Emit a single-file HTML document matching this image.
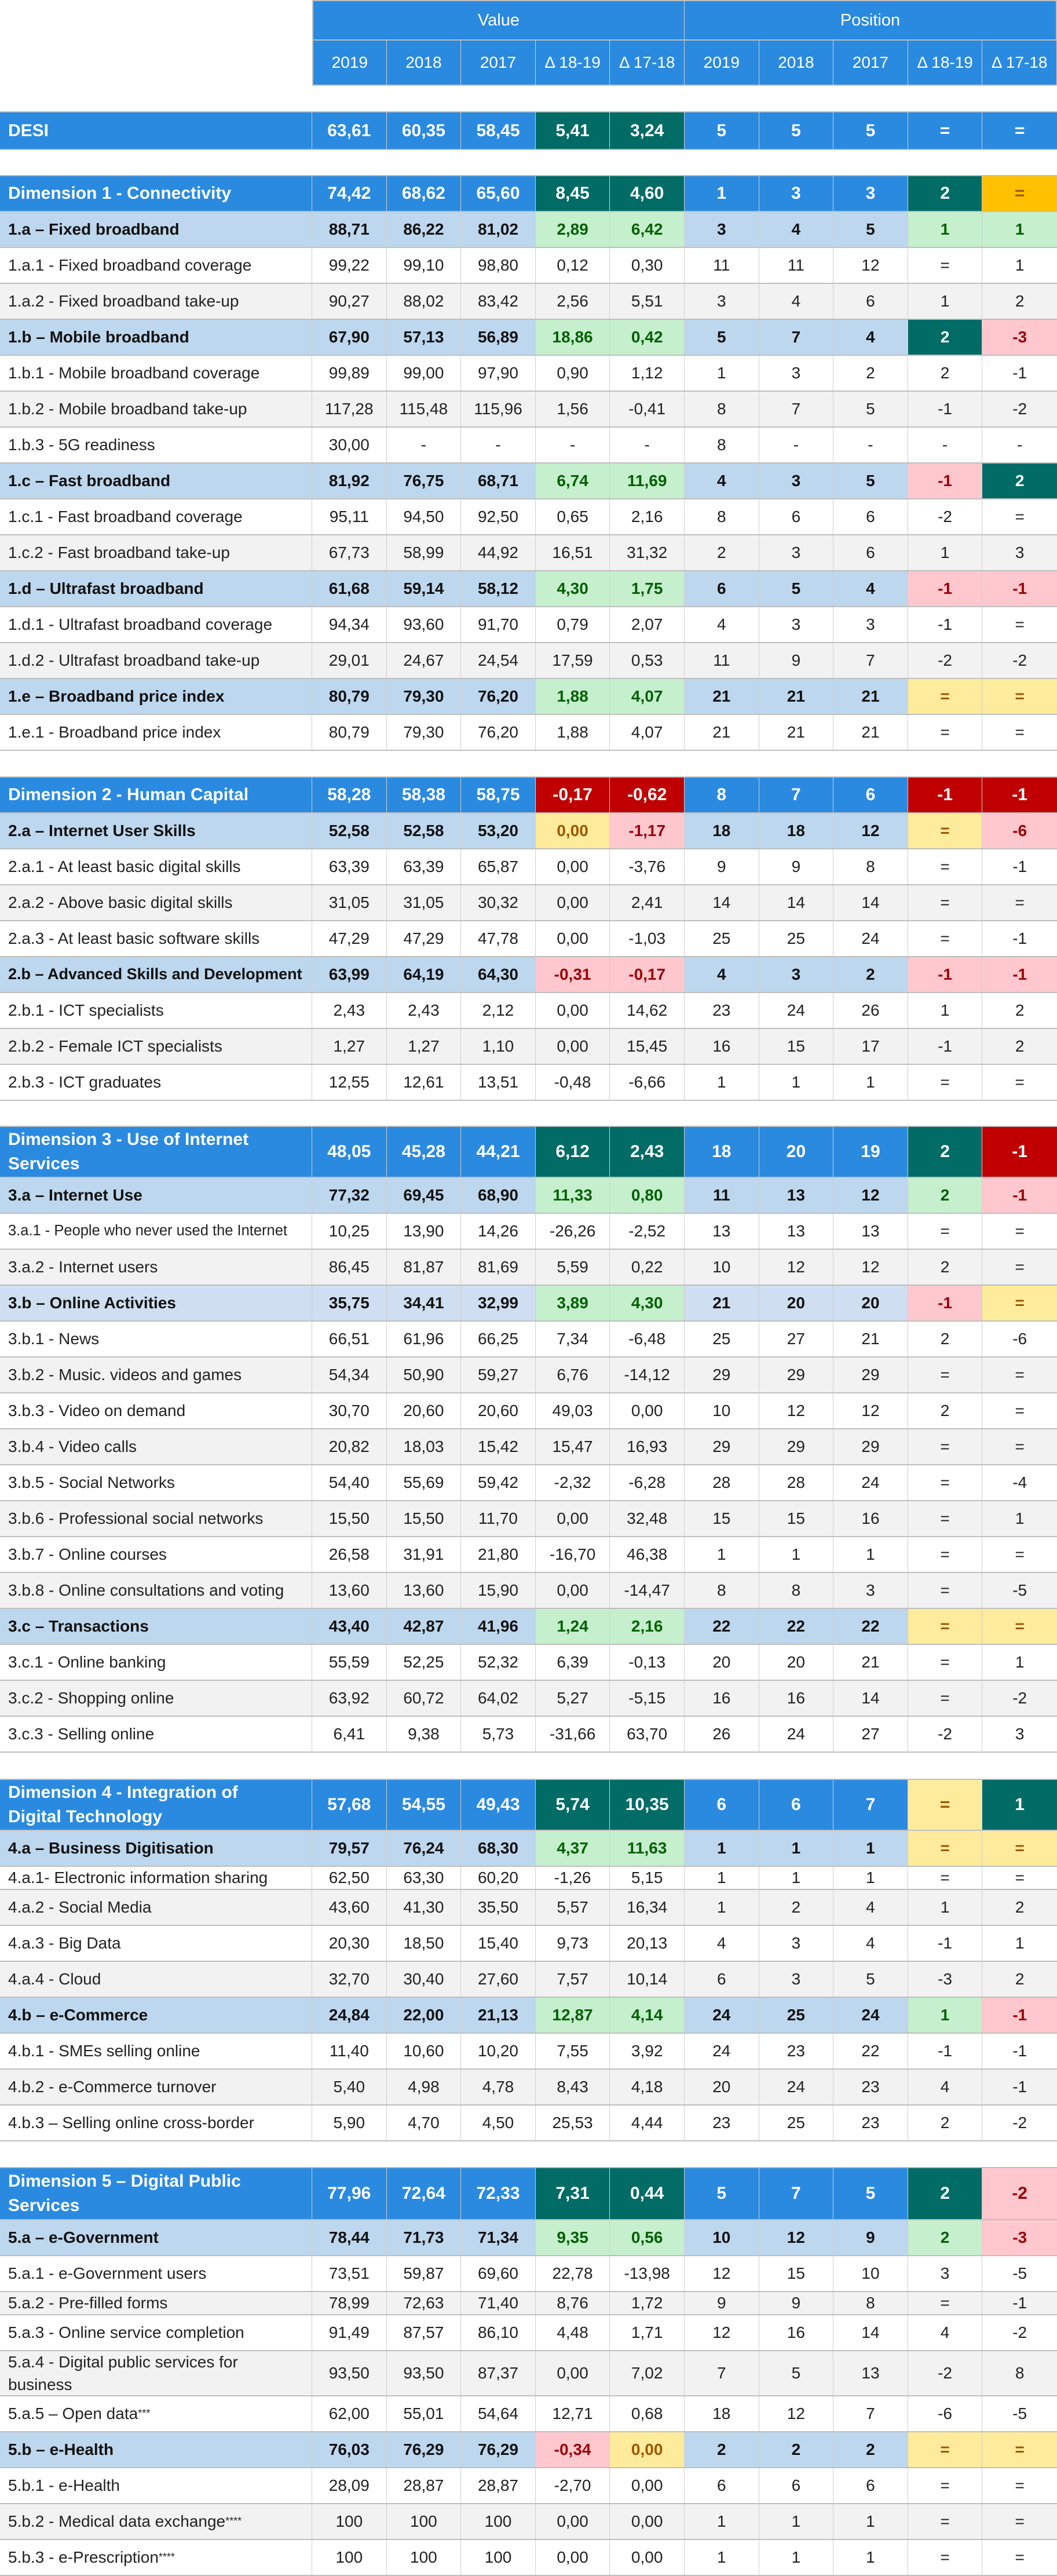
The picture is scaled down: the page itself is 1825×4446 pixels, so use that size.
<!DOCTYPE html>
<html><head><meta charset="utf-8">
<style>
html,body{margin:0;padding:0;background:#fff;}
body{width:1825px;height:4445px;position:relative;overflow:hidden;font-family:"Liberation Sans",sans-serif;}
.row{position:absolute;left:0;width:1825px;display:flex;box-sizing:border-box;border-top:2px solid #bfbfbf;border-bottom:2px solid #bfbfbf;}
.cell{box-sizing:border-box;border-right:1px solid #cfcfcf;display:flex;align-items:center;justify-content:center;font-size:28px;color:#222;}
.cell.lab{justify-content:flex-start;padding-left:14px;width:539px;white-space:nowrap;overflow:hidden;line-height:1.4;}
.cell.num{width:128.6px;}
.cell:last-child{border-right:none;}
.dim .cell{background:#2a8ae0;color:#fff;font-weight:bold;font-size:30px;}
.sub .cell{background:#bdd7ee;color:#111;font-weight:bold;}
.sub2 .cell{background:#cfdef0;color:#111;font-weight:bold;}
.w .cell{background:#fff;}
.gr .cell{background:#f2f2f2;}
.row .cell.G{background:#016b66;color:#fff;}
.row .cell.R{background:#c00000;color:#fff;}
.row .cell.g{background:#c6efce;color:#006100;}
.row .cell.r{background:#ffc7ce;color:#9c0006;}
.row .cell.y{background:#ffeb9c;color:#9c5700;}
.row .cell.o{background:#ffc000;color:#9c5700;}
.hdr{position:absolute;background:#2a8ae0;color:#fff;display:flex;align-items:center;justify-content:center;box-sizing:border-box;font-size:29px;}
sup{font-size:18px;}
</style></head><body>
<div class="hdr" style="left:539px;top:0;width:643px;height:70px;border:2px solid #bfbfbf;border-right:1px solid #cfcfcf;">Value</div>
<div class="hdr" style="left:1182px;top:0;width:643px;height:70px;border:2px solid #bfbfbf;border-left:none;">Position</div>
<div id="subhdr"></div>
<div id="tbl"></div>
<script>
const headerLabels=["2019","2018","2017","Δ 18-19","Δ 17-18","2019","2018","2017","Δ 18-19","Δ 17-18"];
const sectionTops=[192,302,1340,1943,3070,3740];
// [type, label, 10 values, color codes for cols 4,5,9,10, height]
const rowsData=[
["dim","DESI","63,61","60,35","58,45","5,41","3,24","5","5","5","=","=","GG..",65],
["dim","Dimension 1 - Connectivity","74,42","68,62","65,60","8,45","4,60","1","3","3","2","=","GGGo",62],
["sub","1.a – Fixed broadband","88,71","86,22","81,02","2,89","6,42","3","4","5","1","1","gggg",62],
["it","1.a.1 - Fixed broadband coverage","99,22","99,10","98,80","0,12","0,30","11","11","12","=","1","....",62],
["it","1.a.2 - Fixed broadband take-up","90,27","88,02","83,42","2,56","5,51","3","4","6","1","2","....",62],
["sub","1.b – Mobile broadband","67,90","57,13","56,89","18,86","0,42","5","7","4","2","-3","ggGr",62],
["it","1.b.1 - Mobile broadband coverage","99,89","99,00","97,90","0,90","1,12","1","3","2","2","-1","....",62],
["it","1.b.2 - Mobile broadband take-up","117,28","115,48","115,96","1,56","-0,41","8","7","5","-1","-2","....",62],
["it","1.b.3 - 5G readiness","30,00","-","-","-","-","8","-","-","-","-","....",62],
["sub","1.c – Fast broadband","81,92","76,75","68,71","6,74","11,69","4","3","5","-1","2","ggrG",62],
["it","1.c.1 - Fast broadband coverage","95,11","94,50","92,50","0,65","2,16","8","6","6","-2","=","....",62],
["it","1.c.2 - Fast broadband take-up","67,73","58,99","44,92","16,51","31,32","2","3","6","1","3","....",62],
["sub","1.d – Ultrafast broadband","61,68","59,14","58,12","4,30","1,75","6","5","4","-1","-1","ggrr",62],
["it","1.d.1 - Ultrafast broadband coverage","94,34","93,60","91,70","0,79","2,07","4","3","3","-1","=","....",62],
["it","1.d.2 - Ultrafast broadband take-up","29,01","24,67","24,54","17,59","0,53","11","9","7","-2","-2","....",62],
["sub","1.e – Broadband price index","80,79","79,30","76,20","1,88","4,07","21","21","21","=","=","ggyy",62],
["it","1.e.1 - Broadband price index","80,79","79,30","76,20","1,88","4,07","21","21","21","=","=","....",62],
["dim","Dimension 2 - Human Capital","58,28","58,38","58,75","-0,17","-0,62","8","7","6","-1","-1","RRRR",62],
["sub","2.a – Internet User Skills","52,58","52,58","53,20","0,00","-1,17","18","18","12","=","-6","yryr",62],
["it","2.a.1 - At least basic digital skills","63,39","63,39","65,87","0,00","-3,76","9","9","8","=","-1","....",62],
["it","2.a.2 - Above basic digital skills","31,05","31,05","30,32","0,00","2,41","14","14","14","=","=","....",62],
["it","2.a.3 - At least basic software skills","47,29","47,29","47,78","0,00","-1,03","25","25","24","=","-1","....",62],
["sub","2.b – Advanced Skills and Development","63,99","64,19","64,30","-0,31","-0,17","4","3","2","-1","-1","rrrr",62],
["it","2.b.1 - ICT specialists","2,43","2,43","2,12","0,00","14,62","23","24","26","1","2","....",62],
["it","2.b.2 - Female ICT specialists","1,27","1,27","1,10","0,00","15,45","16","15","17","-1","2","....",62],
["it","2.b.3 - ICT graduates","12,55","12,61","13,51","-0,48","-6,66","1","1","1","=","=","....",62],
["dim","Dimension 3 - Use of Internet<br>Services","48,05","45,28","44,21","6,12","2,43","18","20","19","2","-1","GGGR",88],
["sub","3.a – Internet Use","77,32","69,45","68,90","11,33","0,80","11","13","12","2","-1","gggr",62],
["it","3.a.1 - People who never used the Internet","10,25","13,90","14,26","-26,26","-2,52","13","13","13","=","=","....",62],
["it","3.a.2 - Internet users","86,45","81,87","81,69","5,59","0,22","10","12","12","2","=","....",62],
["sub2","3.b – Online Activities","35,75","34,41","32,99","3,89","4,30","21","20","20","-1","=","ggry",62],
["it","3.b.1 - News","66,51","61,96","66,25","7,34","-6,48","25","27","21","2","-6","....",62],
["it","3.b.2 - Music. videos and games","54,34","50,90","59,27","6,76","-14,12","29","29","29","=","=","....",62],
["it","3.b.3 - Video on demand","30,70","20,60","20,60","49,03","0,00","10","12","12","2","=","....",62],
["it","3.b.4 - Video calls","20,82","18,03","15,42","15,47","16,93","29","29","29","=","=","....",62],
["it","3.b.5 - Social Networks","54,40","55,69","59,42","-2,32","-6,28","28","28","24","=","-4","....",62],
["it","3.b.6 - Professional social networks","15,50","15,50","11,70","0,00","32,48","15","15","16","=","1","....",62],
["it","3.b.7 - Online courses","26,58","31,91","21,80","-16,70","46,38","1","1","1","=","=","....",62],
["it","3.b.8 - Online consultations and voting","13,60","13,60","15,90","0,00","-14,47","8","8","3","=","-5","....",62],
["sub","3.c – Transactions","43,40","42,87","41,96","1,24","2,16","22","22","22","=","=","ggyy",62],
["it","3.c.1 - Online banking","55,59","52,25","52,32","6,39","-0,13","20","20","21","=","1","....",62],
["it","3.c.2 - Shopping online","63,92","60,72","64,02","5,27","-5,15","16","16","14","=","-2","....",62],
["it","3.c.3 - Selling online","6,41","9,38","5,73","-31,66","63,70","26","24","27","-2","3","....",62],
["dim","Dimension 4 - Integration of<br>Digital Technology","57,68","54,55","49,43","5,74","10,35","6","6","7","=","1","GGyG",88],
["sub","4.a – Business Digitisation","79,57","76,24","68,30","4,37","11,63","1","1","1","=","=","ggyy",62],
["it","4.a.1- Electronic information sharing","62,50","63,30","60,20","-1,26","5,15","1","1","1","=","=","....",40],
["it","4.a.2 - Social Media","43,60","41,30","35,50","5,57","16,34","1","2","4","1","2","....",62],
["it","4.a.3 - Big Data","20,30","18,50","15,40","9,73","20,13","4","3","4","-1","1","....",62],
["it","4.a.4 - Cloud","32,70","30,40","27,60","7,57","10,14","6","3","5","-3","2","....",62],
["sub","4.b – e-Commerce","24,84","22,00","21,13","12,87","4,14","24","25","24","1","-1","gggr",62],
["it","4.b.1 - SMEs selling online","11,40","10,60","10,20","7,55","3,92","24","23","22","-1","-1","....",62],
["it","4.b.2 - e-Commerce turnover","5,40","4,98","4,78","8,43","4,18","20","24","23","4","-1","....",62],
["it","4.b.3 – Selling online cross-border","5,90","4,70","4,50","25,53","4,44","23","25","23","2","-2","....",62],
["dim","Dimension 5 – Digital Public<br>Services","77,96","72,64","72,33","7,31","0,44","5","7","5","2","-2","GGGr",90],
["sub","5.a – e-Government","78,44","71,73","71,34","9,35","0,56","10","12","9","2","-3","gggr",62],
["it","5.a.1 - e-Government users","73,51","59,87","69,60","22,78","-13,98","12","15","10","3","-5","....",62],
["it","5.a.2 - Pre-filled forms","78,99","72,63","71,40","8,76","1,72","9","9","8","=","-1","....",40],
["it","5.a.3 - Online service completion","91,49","87,57","86,10","4,48","1,71","12","16","14","4","-2","....",62],
["it","5.a.4 - Digital public services for<br>business","93,50","93,50","87,37","0,00","7,02","7","5","13","-2","8","....",78],
["it","5.a.5 – Open data<sup>***</sup>","62,00","55,01","54,64","12,71","0,68","18","12","7","-6","-5","....",62],
["sub","5.b – e-Health","76,03","76,29","76,29","-0,34","0,00","2","2","2","=","=","ryyy",62],
["it","5.b.1 - e-Health","28,09","28,87","28,87","-2,70","0,00","6","6","6","=","=","....",62],
["it","5.b.2 - Medical data exchange<sup>****</sup>","100","100","100","0,00","0,00","1","1","1","=","=","....",62],
["it","5.b.3 - e-Prescription<sup>****</sup>","100","100","100","0,00","0,00","1","1","1","=","=","....",62]
];
const sh=document.getElementById('subhdr');
headerLabels.forEach((t,i)=>{
  const d=document.createElement('div');
  d.className='hdr';
  
  
  d.style.left=(539+i*128.6)+'px';d.style.top='70px';d.style.width='128.6px';d.style.height='78px';
  d.style.borderBottom='2px solid #bfbfbf';d.style.borderRight='1px solid #cfcfcf';d.style.fontSize='28px';
  if(i===0)d.style.borderLeft='2px solid #bfbfbf';
  d.textContent=t;sh.appendChild(d);
});
const tbl=document.getElementById('tbl');
let y=0,sec=0,alt=0;
const colorIdx={3:0,4:1,8:2,9:3};
rowsData.forEach((r,ri)=>{
  const type=r[0];
  if(type==='dim'){y=sectionTops[sec];sec++;}
  const h=r[13];
  const row=document.createElement('div');
  let cls=type;
  if(type==='it'){cls=(alt%2===0)?'w':'gr';alt++;}else{alt=0;}
  row.className='row '+cls;
  
  
  row.style.top=y+'px';row.style.height=(h+2)+'px';
  const lab=document.createElement('div');
  lab.className='cell lab';
  
  
  lab.innerHTML=r[1];
  if(r[1].indexOf('People who')>=0)lab.style.fontSize='25.5px';
  if(r[1].indexOf('consultations')>=0)lab.style.fontSize='28px';
  if(r[1].indexOf('Advanced Skills')>=0)lab.style.fontSize='27px';
  row.appendChild(lab);
  for(let c=0;c<10;c++){
    const d=document.createElement('div');
    d.className='cell num';
    
    
    if(c in colorIdx){const k=r[12][colorIdx[c]];if(k!=='.')d.classList.add(k);}
    d.textContent=r[2+c];
    row.appendChild(d);
  }
  tbl.appendChild(row);
  y+=h;
});
</script>
</body></html>
